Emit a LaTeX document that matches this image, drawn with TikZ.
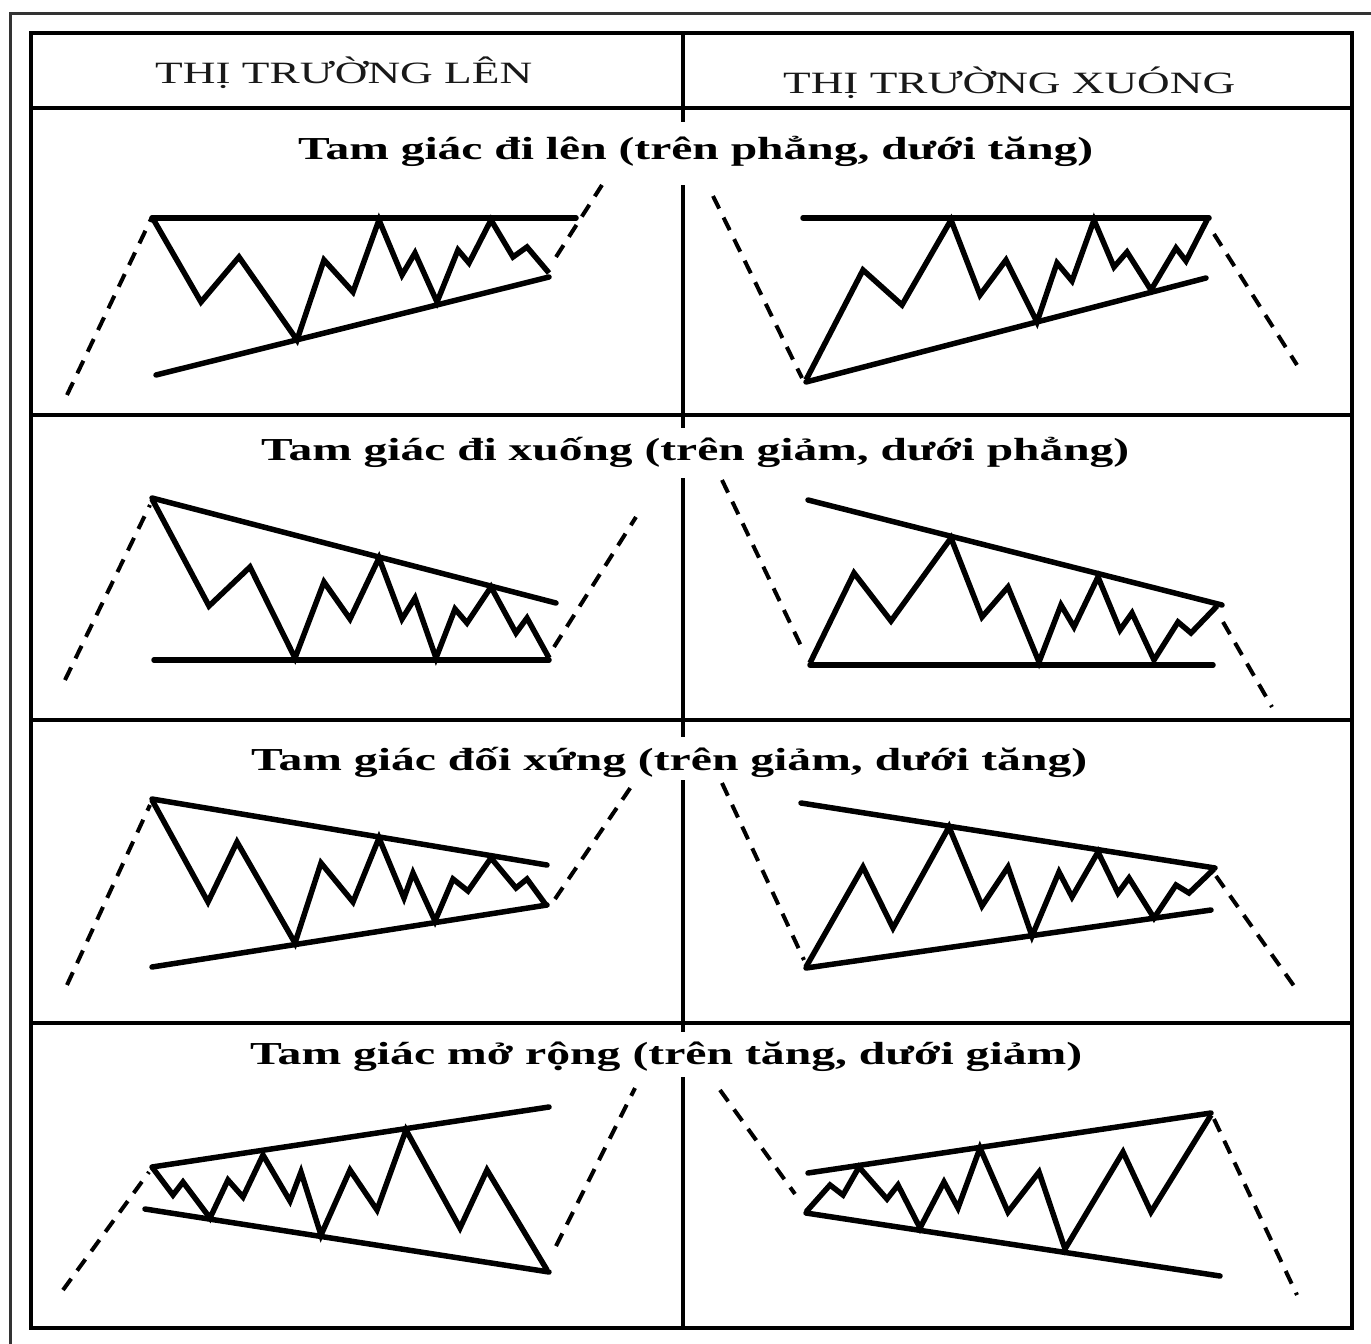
\documentclass[tikz,border=0pt]{standalone}
\usepackage{fontspec}
\usepackage{graphicx}
\setmainfont{Liberation Serif}
\begin{document}
\begin{tikzpicture}[x=1pt,y=-1pt,
  tbl/.style={line width=3.2pt,black},
  frame/.style={line width=3pt,black!80},
  trend/.style={line width=5.5pt,line cap=round},
  zz/.style={line width=5.5pt,line join=miter,miter limit=6},
  dsh/.style={line width=4pt,dash pattern=on 14pt off 10pt},
  ttl/.style={inner sep=0pt,anchor=base west,font=\fontsize{32}{36}\selectfont\bfseries},
  hdr/.style={inner sep=0pt,anchor=base west,font=\fontsize{31}{36}\selectfont,text=black!90}]
\useasboundingbox (0,0) rectangle (1371,1344);
\fill[white] (0,0) rectangle (1371,1344);
% outer frame
\draw[frame] (10,1344) -- (10,13) -- (1371,13);
% table
\draw[tbl] (31,33) rectangle (1352,1328);
\foreach \yy in {108,415,720,1023} \draw[tbl] (31,\yy) -- (1352,\yy);
\draw[tbl] (683,33) -- (683,122) (683,185) -- (683,428) (683,478) -- (683,737)
  (683,780) -- (683,1032) (683,1077) -- (683,1328);
% headers
\node[hdr] (h1) at (155,83) {\resizebox{377pt}{\height}{THỊ TRƯỜNG LÊN}};
\node[hdr] (h2) at (783,93) {\resizebox{452pt}{\height}{THỊ TRƯỜNG XUÓNG}};
% titles
\node[ttl] (t1) at (298,159) {\resizebox{795pt}{\height}{Tam giác đi lên (trên phẳng, dưới tăng)}};
\node[ttl] (t2) at (261,460) {\resizebox{868pt}{\height}{Tam giác đi xuống (trên giảm, dưới phẳng)}};
\node[ttl] (t3) at (251,770) {\resizebox{836pt}{\height}{Tam giác đối xứng (trên giảm, dưới tăng)}};
\node[ttl] (t4) at (250,1064) {\resizebox{832pt}{\height}{Tam giác mở rộng (trên tăng, dưới giảm)}};
% panel 1
\draw[trend] (152,218) -- (576,218);
\draw[trend] (156,375) -- (549,277);
\draw[zz] (152,217) -- (201,302) -- (239,257) -- (297,340) -- (324,260) -- (353,292) -- (379,220) -- (402,275) -- (415,253) -- (437,302) -- (458,250) -- (469,263) -- (491,220) -- (513,257) -- (527,247) -- (549,273);
\draw[dsh] (67,395) -- (152,217);
\draw[dsh] (556,257) -- (602,185);
% panel 2
\draw[trend] (803,218) -- (1209,218);
\draw[trend] (806,382) -- (1206,278);
\draw[zz] (806,380) -- (863,270) -- (902,305) -- (951,220) -- (980,295) -- (1006,260) -- (1037,322) -- (1057,263) -- (1072,281) -- (1094,220) -- (1114,267) -- (1127,252) -- (1151,290) -- (1176,248) -- (1186,261) -- (1207,220);
\draw[dsh] (713,196) -- (802,378);
\draw[dsh] (1214,234) -- (1297,365);
% panel 3
\draw[trend] (152,498) -- (556,603);
\draw[trend] (154,660) -- (549,660);
\draw[zz] (152,499) -- (209,606) -- (250,567) -- (295,658) -- (324,582) -- (350,619) -- (379,558) -- (402,619) -- (415,598) -- (436,658) -- (455,609) -- (467,623) -- (491,587) -- (516,633) -- (527,618) -- (549,658);
\draw[dsh] (65,680) -- (150,505);
\draw[dsh] (554,647) -- (636,517);
% panel 4
\draw[trend] (808,500) -- (1222,605);
\draw[trend] (810,665) -- (1213,665);
\draw[zz] (810,663) -- (854,573) -- (891,621) -- (951,538) -- (982,617) -- (1008,587) -- (1039,662) -- (1061,605) -- (1074,627) -- (1098,577) -- (1120,630) -- (1132,613) -- (1154,660) -- (1178,622) -- (1191,633) -- (1217,606);
\draw[dsh] (722,480) -- (802,648);
\draw[dsh] (1223,622) -- (1272,707);
% panel 5
\draw[trend] (152,799) -- (547,865);
\draw[trend] (152,967) -- (547,905);
\draw[zz] (152,800) -- (208,902) -- (237,842) -- (295,943) -- (321,863) -- (353,902) -- (379,838) -- (404,898) -- (413,873) -- (435,921) -- (453,879) -- (468,891) -- (491,858) -- (516,888) -- (527,879) -- (546,905);
\draw[dsh] (67,985) -- (150,805);
\draw[dsh] (555,899) -- (635,781);
% panel 6
\draw[trend] (801,803) -- (1215,868);
\draw[trend] (806,968) -- (1211,910);
\draw[zz] (806,967) -- (863,867) -- (893,928) -- (949,827) -- (982,906) -- (1008,867) -- (1032,936) -- (1059,872) -- (1072,897) -- (1098,852) -- (1118,893) -- (1129,878) -- (1154,918) -- (1176,885) -- (1189,893) -- (1214,869);
\draw[dsh] (722,783) -- (804,960);
\draw[dsh] (1216,876) -- (1299,993);
% panel 7
\draw[trend] (152,1167) -- (549,1107);
\draw[trend] (145,1209) -- (549,1272);
\draw[zz] (152,1167) -- (173,1195) -- (183,1182) -- (210,1218) -- (228,1180) -- (243,1197) -- (263,1155) -- (290,1201) -- (301,1172) -- (321,1235) -- (350,1170) -- (377,1210) -- (406,1130) -- (460,1228) -- (487,1170) -- (547,1270);
\draw[dsh] (63,1290) -- (149,1172);
\draw[dsh] (556,1246) -- (635,1088);
% panel 8
\draw[trend] (808,1173) -- (1211,1113);
\draw[trend] (806,1213) -- (1220,1276);
\draw[zz] (806,1212) -- (830,1185) -- (843,1195) -- (859,1167) -- (887,1199) -- (898,1185) -- (920,1228) -- (944,1182) -- (958,1208) -- (980,1148) -- (1008,1212) -- (1039,1172) -- (1065,1249) -- (1123,1152) -- (1151,1212) -- (1211,1115);
\draw[dsh] (720,1090) -- (795,1194);
\draw[dsh] (1214,1119) -- (1297,1295);
\end{tikzpicture}
\end{document}
